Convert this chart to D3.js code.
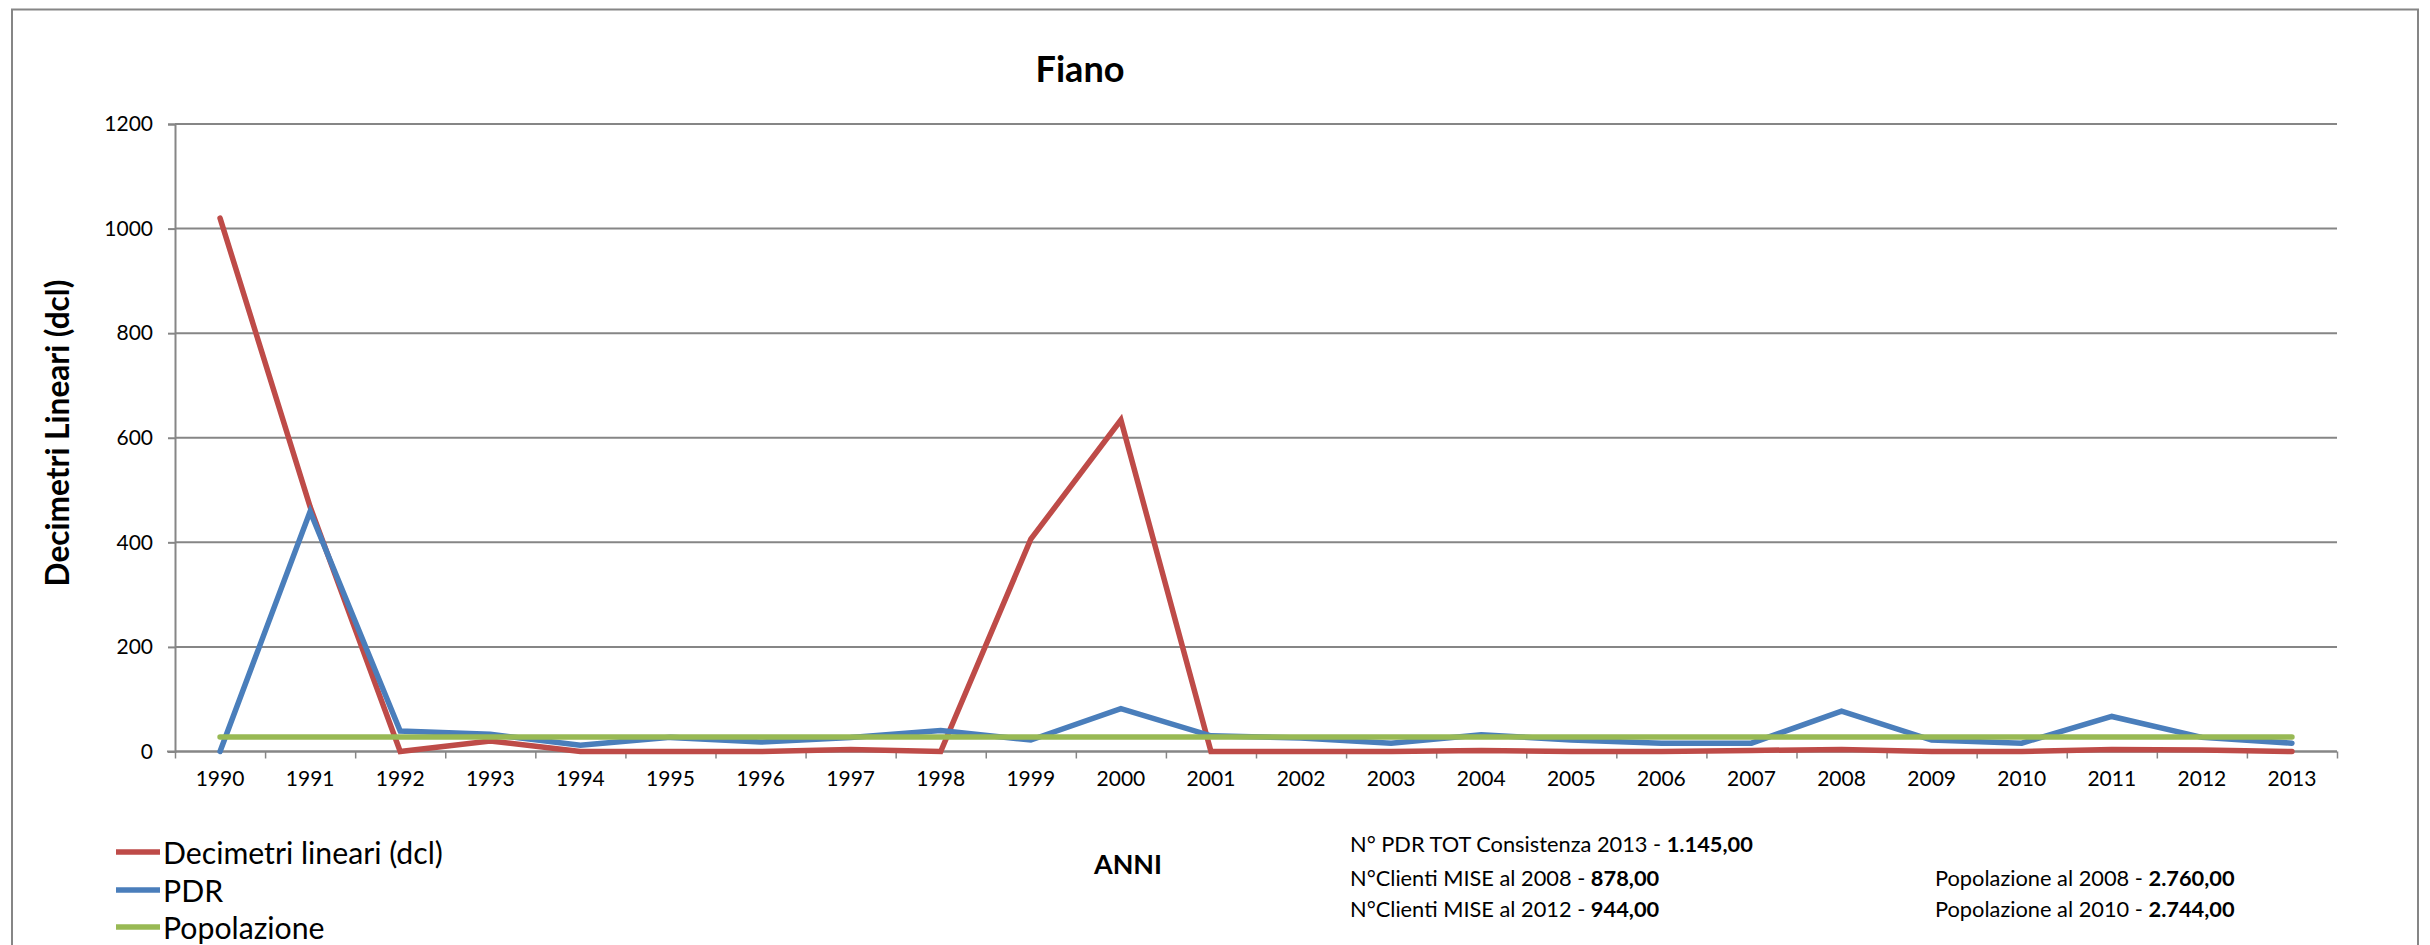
<!DOCTYPE html>
<html><head><meta charset="utf-8">
<script src="https://cdn.jsdelivr.net/npm/d3@7"></script>
<style>
html,body{margin:0;padding:0;background:#fff;}
svg{display:block;font-family:Lato,"Open Sans",sans-serif;}
</style></head>
<body>
<svg id="chart" width="2430" height="945"></svg>
<script>
const years = ["1990","1991","1992","1993","1994","1995","1996","1997","1998","1999","2000","2001","2002","2003","2004","2005","2006","2007","2008","2009","2010","2011","2012","2013"];
const decimetri = [1020,468,0,20,0,0,0,4,0,406,634,0,0,0,2,0,0,2,4,0,0,4,3,0];
const pdr = [0,459,39,33,12,27,18,27,40,22,82,30,26,16,32,22,16,16,77,22,16,67,27,16];
const popolazione = [27.6,27.6,27.6,27.6,27.6,27.6,27.6,27.6,27.6,27.6,27.6,27.6,27.6,27.6,27.6,27.6,27.6,27.6,27.6,27.6,27.6,27.6,27.6,27.6];
const yTicks = [0,200,400,600,800,1000,1200];
const seriesNames = ["Decimetri lineari (dcl)","PDR","Popolazione"];
const seriesColors = ["#BE4B48","#4A7EBB","#98B954"];
const notesLeft = [["N° PDR TOT Consistenza 2013 - ","1.145,00"],["N°Clienti MISE al 2008 - ","878,00"],["N°Clienti MISE al 2012 - ","944,00"]];
const notesRight = [["Popolazione al 2008 - ","2.760,00"],["Popolazione al 2010 - ","2.744,00"]];

const svg = d3.select("#chart");
const L = 175, R = 2337, T = 124, B = 751.5;
const grey = "#868686";

// outer border
svg.append("rect").attr("x",12).attr("y",9.5).attr("width",2406).attr("height",960)
  .attr("fill","none").attr("stroke",grey).attr("stroke-width",2);

const x = d3.scaleBand().domain(years).range([L,R]).padding(0);
const xIdx = d3.scaleLinear().domain([0,years.length]).range([L,R]);
const y = d3.scaleLinear().domain([0,1200]).range([B,T]);

// gridlines
svg.append("g").selectAll("line").data(yTicks).join("line")
  .attr("x1",L).attr("x2",R).attr("y1",d=>y(d)).attr("y2",d=>y(d))
  .attr("stroke",grey).attr("stroke-width",2);

// y axis
const yAxis = svg.append("g").attr("transform",`translate(${L},0)`)
  .call(d3.axisLeft(y).tickValues(yTicks).tickSize(7).tickPadding(15).tickFormat(d3.format("d")));
yAxis.select(".domain").attr("stroke",grey).attr("stroke-width",2);
yAxis.selectAll(".tick line").attr("stroke",grey).attr("stroke-width",2);
yAxis.selectAll(".tick text").attr("font-size",21).attr("font-family","Lato").attr("fill","#000");

// x axis ticks at band boundaries
const xTickAxis = svg.append("g").attr("transform",`translate(0,${B})`)
  .call(d3.axisBottom(xIdx).tickValues(d3.range(years.length+1)).tickSize(7).tickFormat(""));
xTickAxis.select(".domain").attr("stroke",grey).attr("stroke-width",2).attr("d",`M${L-8},0H${R}`);
xTickAxis.selectAll(".tick line").attr("stroke",grey).attr("stroke-width",1.5);
// x labels
const xLab = svg.append("g").attr("transform",`translate(0,${B})`)
  .call(d3.axisBottom(x).tickSize(0).tickPadding(20));
xLab.select(".domain").remove();
xLab.selectAll(".tick text").attr("font-size",21).attr("font-family","Lato").attr("fill","#000");

// lines
const line = d3.line().x((d,i)=>x(years[i])+x.bandwidth()/2).y(d=>y(d));
[decimetri,pdr,popolazione].forEach((s,k)=>{
  svg.append("path").datum(s).attr("d",line).attr("fill","none")
    .attr("stroke",seriesColors[k]).attr("stroke-width",5.5)
    .attr("stroke-linejoin","miter").attr("stroke-linecap","round");
});

function fitSize(text, weight, target, base){
  const t = svg.append("text").attr("font-size",base).attr("font-weight",weight).text(text);
  const w = t.node().getComputedTextLength(); t.remove();
  return base*target/w;
}

// title
const tfs = fitSize("Fiano","bold",89,32);
svg.append("text").attr("x",1080).attr("y",82).attr("text-anchor","middle")
  .attr("font-size",tfs).attr("font-weight","bold").text("Fiano");

// y axis title
const yfs = fitSize("Decimetri Lineari (dcl)","bold",307,24);
svg.append("text").attr("transform","translate(57,433) rotate(-90)").attr("text-anchor","middle")
  .attr("dominant-baseline","central").attr("font-size",yfs).attr("font-weight","bold")
  .text("Decimetri Lineari (dcl)");

// x axis title
const afs = fitSize("ANNI","bold",68,24);
svg.append("text").attr("x",1128).attr("y",863).attr("text-anchor","middle")
  .attr("dominant-baseline","central").attr("font-size",afs).attr("font-weight","bold").text("ANNI");

// legend
const lfs = fitSize(seriesNames[0],"normal",280,26);
const legY = [852,890,927];
seriesNames.forEach((n,i)=>{
  svg.append("line").attr("x1",116).attr("x2",160).attr("y1",legY[i]).attr("y2",legY[i])
    .attr("stroke",seriesColors[i]).attr("stroke-width",5.5);
  svg.append("text").attr("x",163).attr("y",legY[i]).attr("dominant-baseline","central")
    .attr("font-size",lfs).text(n);
});

// notes
function noteWidth(parts, fs){
  const t = svg.append("text").attr("font-size",fs);
  t.append("tspan").text(parts[0]);
  t.append("tspan").attr("font-weight","bold").text(parts[1]);
  const w = t.node().getComputedTextLength(); t.remove(); return w;
}
const nfs = 20*403/noteWidth(notesLeft[0],20);
function drawNote(parts,xx,yy){
  const t = svg.append("text").attr("x",xx).attr("y",yy).attr("dominant-baseline","central").attr("font-size",nfs);
  t.append("tspan").text(parts[0]);
  t.append("tspan").attr("font-weight","bold").text(parts[1]);
}
const nY = [843,877,908];
notesLeft.forEach((p,i)=>drawNote(p,1350,nY[i]));
notesRight.forEach((p,i)=>drawNote(p,1935,nY[i+1]));
</script>
</body></html>
